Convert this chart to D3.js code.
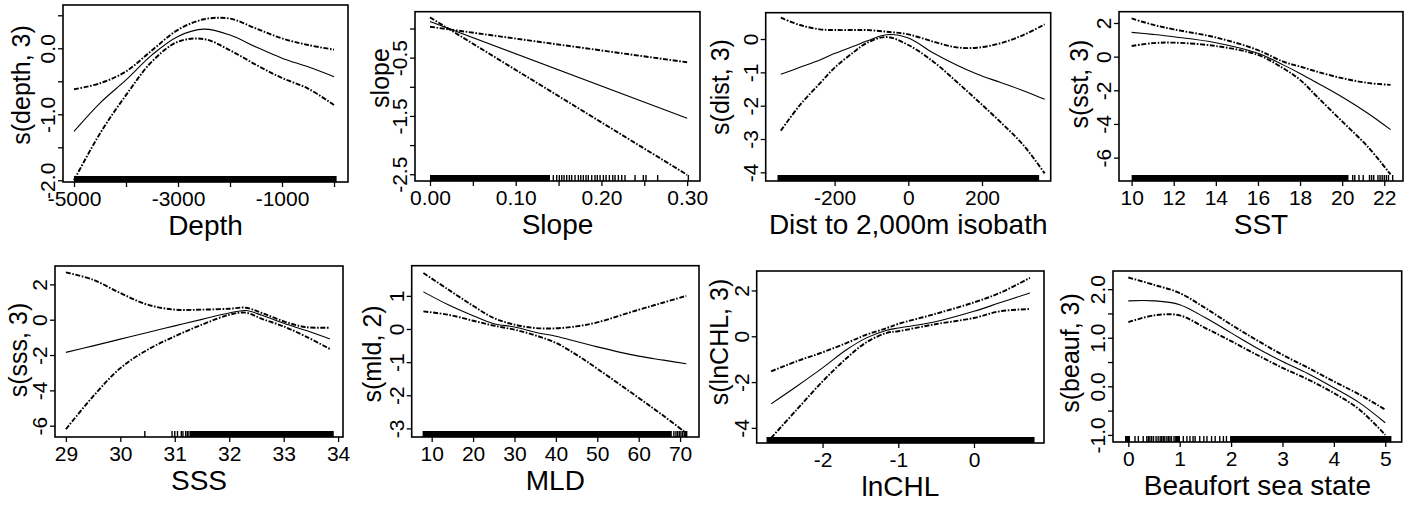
<!DOCTYPE html>
<html><head><meta charset="utf-8">
<script src="https://cdn.jsdelivr.net/npm/d3@7"></script>
<style>
body{margin:0;background:#fff}
svg text{font-family:"Liberation Sans",Arial,Helvetica,sans-serif;fill:#000}
</style>
</head><body>
<svg id="chart" width="1411" height="506"></svg>
<script>
// ---------------- DATA ----------------
// Panel 1: Depth
const depthX      = [-5000,-4500,-4000,-3500,-3000,-2500,-2000,-1500,-1000,-500,0];
const depthFit    = [-1.26,-0.83,-0.48,-0.10,0.18,0.29,0.20,0.02,-0.15,-0.28,-0.43];
const depthUpper  = [-0.62,-0.53,-0.35,-0.03,0.28,0.44,0.45,0.30,0.15,0.05,-0.02];
const depthLower  = [-2.00,-1.29,-0.71,-0.20,0.10,0.14,-0.03,-0.25,-0.45,-0.61,-0.86];
const depthXTicks = [-5000,-4000,-3000,-2000,-1000,0];
const depthXLabels= ["-5000","","-3000","","-1000",""];
const depthYTicks = [-2,-1.5,-1,-0.5,0,0.5];
const depthYLabels= ["-2.0","","-1.0","","0.0",""];
const depthRugDense = [[-5000,50]];
const depthRugSparse = [];

// Panel 2: Slope
const slopeX      = [0,0.30];
const slopeFit    = [0.12,-1.54];
const slopeUpper  = [0.03,-0.58];
const slopeLower  = [0.19,-2.51];
const slopeXTicks = [0,0.05,0.10,0.15,0.20,0.25,0.30];
const slopeXLabels= ["0.00","","0.10","","0.20","","0.30"];
const slopeYTicks = [-2.5,-2,-1.5,-1,-0.5,0];
const slopeYLabels= ["-2.5","","-1.5","","-0.5",""];
const slopeRugDense = [[0,0.14]];
const slopeRugSparse = [0.1439,0.1478,0.1509,0.1537,0.1564,0.1595,0.1626,0.1653,0.1692,0.1731,0.1759,0.1789,0.1820,0.1847,0.1887,0.1925,0.1952,0.1984,0.2023,0.2054,0.2093,0.2132,0.2159,0.2198,0.2237,0.2275,0.2392,0.2489,0.2520,0.2656,0.3014];

// Panel 3: Dist to 2,000m isobath
const distX      = [-346,-294,-240,-199,-149,-113,-59,0,68,131,186,249,312,370];
const distFit    = [-1.06,-0.85,-0.63,-0.43,-0.22,-0.06,0.13,0.03,-0.42,-0.78,-1.05,-1.30,-1.55,-1.81];
const distUpper  = [0.64,0.42,0.29,0.27,0.27,0.27,0.22,0.14,-0.08,-0.25,-0.26,-0.13,0.12,0.44];
const distLower  = [-2.75,-1.98,-1.33,-0.85,-0.40,-0.12,0.06,-0.18,-0.68,-1.28,-1.83,-2.48,-3.18,-4.03];
const distXTicks = [-200,0,200];
const distXLabels= ["-200","0","200"];
const distYTicks = [-4,-3,-2,-1,0];
const distYLabels= ["-4","-3","-2","-1","0"];
const distRugDense = [[-355,355]];
const distRugSparse = [];

// Panel 4: SST
const sstX      = [10,11,12,14,16,17.2,18,18.8,20,21.2,22.3];
const sstFit    = [1.44,1.32,1.18,0.83,0.20,-0.49,-1.00,-1.55,-2.40,-3.35,-4.34];
const sstUpper  = [2.27,1.90,1.62,1.14,0.39,-0.30,-0.59,-0.89,-1.28,-1.56,-1.68];
const sstLower  = [0.63,0.80,0.83,0.63,0.10,-0.69,-1.38,-2.37,-3.85,-5.33,-7.00];
const sstXTicks = [10,12,14,16,18,20,22];
const sstXLabels= ["10","12","14","16","18","20","22"];
const sstYTicks = [-6,-4,-2,0,2];
const sstYLabels= ["-6","-4","-2","0","2"];
const sstRugDense = [[10.0,20.3]];
const sstRugSparse = [20.5,20.6,20.8,21.0,21.3,21.4,21.5,21.7,21.8,21.9,22.0,22.1,22.2,22.4];

// Panel 5: SSS
const sssX      = [29,29.5,30,30.5,31,31.5,32,32.3,32.6,33,33.4,33.85];
const sssFit    = [-1.85,-1.48,-1.10,-0.72,-0.35,0.02,0.38,0.52,0.25,-0.20,-0.60,-1.09];
const sssUpper  = [2.68,2.26,1.51,0.85,0.57,0.57,0.62,0.68,0.38,-0.09,-0.42,-0.45];
const sssLower  = [-6.20,-4.34,-2.74,-1.70,-0.94,-0.28,0.28,0.40,0.05,-0.38,-0.94,-1.66];
const sssXTicks = [29,30,31,32,33,34];
const sssXLabels= ["29","30","31","32","33","34"];
const sssYTicks = [-6,-4,-2,0,2];
const sssYLabels= ["-6","-4","-2","0","2"];
const sssRugDense = [[31.28,33.92]];
const sssRugSparse = [30.45,30.95,31.0,31.05,31.12,31.15,31.2,31.23,31.26];

// Panel 6: MLD
const mldX      = [8,14,20,25,30,35,40,45,50,60,66,71.5];
const mldFit    = [1.12,0.73,0.40,0.16,0.06,-0.10,-0.22,-0.38,-0.54,-0.82,-0.94,-1.05];
const mldUpper  = [1.69,1.19,0.70,0.33,0.13,0.03,0.02,0.08,0.20,0.58,0.80,1.00];
const mldLower  = [0.53,0.43,0.25,0.10,-0.02,-0.19,-0.42,-0.78,-1.20,-2.08,-2.62,-3.14];
const mldXTicks = [10,20,30,40,50,60,70];
const mldXLabels= ["10","20","30","40","50","60","70"];
const mldYTicks = [-3,-2,-1,0,1];
const mldYLabels= ["-3","-2","-1","0","1"];
const mldRugDense = [[7.8,68]];
const mldRugSparse = [68.5,69,69.4,69.8,70.2,70.6,71,71.3,71.6];

// Panel 7: lnCHL
const chlX      = [-2.68,-2.34,-2,-1.68,-1.42,-1.15,-1,-0.54,0,0.34,0.74];
const chlFit    = [-2.95,-2.18,-1.38,-0.58,-0.07,0.26,0.36,0.61,1.09,1.46,1.89];
const chlUpper  = [-1.53,-1.09,-0.70,-0.29,0.07,0.36,0.54,0.95,1.48,1.89,2.55];
const chlLower  = [-4.44,-3.20,-1.97,-0.95,-0.26,0.15,0.22,0.51,0.80,1.09,1.19];
const chlXTicks = [-2,-1,0];
const chlXLabels= ["-2","-1","0"];
const chlYTicks = [-4,-2,0,2];
const chlYLabels= ["-4","-2","0","2"];
const chlRugDense = [[-2.74,0.80]];
const chlRugSparse = [];

// Panel 8: Beaufort sea state
const beaufX      = [0,0.5,1,1.5,2,2.5,3,3.5,4,4.5,5];
const beaufFit    = [1.76,1.76,1.68,1.41,1.10,0.79,0.51,0.26,-0.03,-0.34,-0.75];
const beaufUpper  = [2.24,2.09,1.92,1.61,1.27,0.95,0.65,0.38,0.10,-0.17,-0.48];
const beaufLower  = [1.32,1.46,1.46,1.20,0.93,0.65,0.38,0.14,-0.14,-0.48,-1.00];
const beaufXTicks = [0,1,2,3,4,5];
const beaufXLabels= ["0","1","2","3","4","5"];
const beaufYTicks = [-1,-0.5,0,0.5,1,1.5,2];
const beaufYLabels= ["-1.0","","0.0","","1.0","","2.0"];
const beaufRugDense = [[-0.064,0.033],[0.91,1.006],[1.98,5.12]];
const beaufRugSparse = [0.13,0.195,0.29,0.36,0.39,0.42,0.455,0.49,0.54,0.58,0.62,0.65,0.68,0.71,0.75,0.78,0.81,0.84,0.89,1.07,1.14,1.20,1.26,1.30,1.39,1.47,1.53,1.62,1.69,1.78,1.85,1.91];

const xTitles = ["Depth","Slope","Dist to 2,000m isobath","SST","SSS","MLD","lnCHL","Beaufort sea state"];
const yTitles = ["s(depth, 3)","slope","s(dist, 3)","s(sst, 3)","s(sss, 3)","s(mld, 2)","s(lnCHL, 3)","s(beauf, 3)"];

// ---------------- LAYOUT (positions only) ----------------
const layout = [
  {l:63,   r:348,    t:5,     b:182,  xd:[-5211.5,269],  yd:[-2.026,0.656], ytx:30,   yty:85},
  {l:415,  r:700,    t:11.7,  b:181,  xd:[-0.0175,0.315],yd:[-2.616,0.288], ytx:389,  yty:78},
  {l:765.7,r:1050.7, t:12.7,  b:181,  xd:[-387,386.4],   yd:[-4.26,0.79],   ytx:729,  yty:87},
  {l:1119, r:1403,   t:11.7,  b:181,  xd:[9.40,22.89],   yd:[-7.39,2.67],   ytx:1088, yty:84},
  {l:55,   r:343,    t:266,   b:437,  xd:[28.80,34.09],  yd:[-6.64,3.04],   ytx:27,   yty:350},
  {l:411.7,r:699,    t:265.7, b:437,  xd:[5.17,74.57],   yd:[-3.26,1.91],   ytx:381,  yty:354},
  {l:756.7,r:1044,   t:271,   b:443,  xd:[-2.87,0.925],  yd:[-4.66,2.85],   ytx:728,  yty:342},
  {l:1113, r:1401.7, t:271,   b:442,  xd:[-0.298,5.32],  yd:[-1.146,2.374], ytx:1079, yty:353}
];

const panelData = [
  {x:depthX,fit:depthFit,up:depthUpper,lo:depthLower,xt:depthXTicks,xl:depthXLabels,yt:depthYTicks,yl:depthYLabels,rd:depthRugDense,rs:depthRugSparse},
  {x:slopeX,fit:slopeFit,up:slopeUpper,lo:slopeLower,xt:slopeXTicks,xl:slopeXLabels,yt:slopeYTicks,yl:slopeYLabels,rd:slopeRugDense,rs:slopeRugSparse},
  {x:distX,fit:distFit,up:distUpper,lo:distLower,xt:distXTicks,xl:distXLabels,yt:distYTicks,yl:distYLabels,rd:distRugDense,rs:distRugSparse},
  {x:sstX,fit:sstFit,up:sstUpper,lo:sstLower,xt:sstXTicks,xl:sstXLabels,yt:sstYTicks,yl:sstYLabels,rd:sstRugDense,rs:sstRugSparse},
  {x:sssX,fit:sssFit,up:sssUpper,lo:sssLower,xt:sssXTicks,xl:sssXLabels,yt:sssYTicks,yl:sssYLabels,rd:sssRugDense,rs:sssRugSparse},
  {x:mldX,fit:mldFit,up:mldUpper,lo:mldLower,xt:mldXTicks,xl:mldXLabels,yt:mldYTicks,yl:mldYLabels,rd:mldRugDense,rs:mldRugSparse},
  {x:chlX,fit:chlFit,up:chlUpper,lo:chlLower,xt:chlXTicks,xl:chlXLabels,yt:chlYTicks,yl:chlYLabels,rd:chlRugDense,rs:chlRugSparse},
  {x:beaufX,fit:beaufFit,up:beaufUpper,lo:beaufLower,xt:beaufXTicks,xl:beaufXLabels,yt:beaufYTicks,yl:beaufYLabels,rd:beaufRugDense,rs:beaufRugSparse}
];

// ---------------- DRAW ----------------
const svg = d3.select("#chart");
svg.append("rect").attr("width",1411).attr("height",506).attr("fill","#fff");

const TICK_FS = 21, XTITLE_FS = 28, YTITLE_FS = 25, RUG_H = 6, TICK_LEN = 5;

panelData.forEach((d,i)=>{
  const L = layout[i];
  const xs = d3.scaleLinear().domain(L.xd).range([L.l,L.r]);
  const ys = d3.scaleLinear().domain(L.yd).range([L.b,L.t]);
  const g = svg.append("g");

  const clipId = "clip"+i;
  svg.append("clipPath").attr("id",clipId).append("rect")
     .attr("x",L.l).attr("y",L.t).attr("width",L.r-L.l).attr("height",L.b-L.t);

  const pg = g.append("g").attr("clip-path",`url(#${clipId})`);

  // rug
  pg.selectAll("rect.rug").data(d.rd).join("rect").attr("class","rug")
    .attr("x",r=>xs(r[0])).attr("width",r=>Math.max(1,xs(r[1])-xs(r[0])))
    .attr("y",L.b-RUG_H).attr("height",RUG_H).attr("fill","#000");
  pg.selectAll("line.rug").data(d.rs).join("line").attr("class","rug")
    .attr("x1",v=>xs(v)).attr("x2",v=>xs(v))
    .attr("y1",L.b-RUG_H).attr("y2",L.b).attr("stroke","#000").attr("stroke-width",1.4);

  const line = d3.line().x((v,j)=>xs(d.x[j])).y(v=>ys(v)).curve(d3.curveCatmullRom.alpha(0.5));
  [d.up,d.lo].forEach(s=>{
    pg.append("path").attr("d",line(s)).attr("fill","none")
      .attr("stroke","#000").attr("stroke-width",1.9)
      .attr("stroke-dasharray","5,1.6,1.6,1.6");
  });
  pg.append("path").attr("d",line(d.fit)).attr("fill","none")
    .attr("stroke","#000").attr("stroke-width",1.1);

  // box
  g.append("rect").attr("x",L.l).attr("y",L.t).attr("width",L.r-L.l).attr("height",L.b-L.t)
   .attr("fill","none").attr("stroke","#000").attr("stroke-width",1.6);

  // x axis
  const xAxis = d3.axisBottom(xs).tickValues(d.xt)
    .tickFormat((v,j)=>d.xl[j]).tickSize(TICK_LEN).tickSizeOuter(0).tickPadding(3);
  const xg = g.append("g").attr("transform",`translate(0,${L.b})`).call(xAxis);
  xg.select(".domain").remove();
  xg.selectAll(".tick line").attr("stroke","#000").attr("stroke-width",1.3);
  xg.selectAll(".tick text").attr("font-size",TICK_FS).attr("dy",null).attr("y",24)
    .attr("font-family","'Liberation Sans',Arial,sans-serif").attr("fill","#000");

  // y axis
  const yAxis = d3.axisLeft(ys).tickValues(d.yt)
    .tickFormat((v,j)=>d.yl[j]).tickSize(TICK_LEN).tickSizeOuter(0);
  const yg = g.append("g").attr("transform",`translate(${L.l},0)`).call(yAxis);
  yg.select(".domain").remove();
  yg.selectAll(".tick line").attr("stroke","#000").attr("stroke-width",1.3);
  yg.selectAll(".tick text").attr("font-size",TICK_FS)
    .attr("font-family","'Liberation Sans',Arial,sans-serif").attr("fill","#000")
    .attr("transform","rotate(-90)").attr("text-anchor","middle")
    .attr("x",0).attr("y",-8).attr("dy",null);

  // titles
  g.append("text").attr("x",(L.l+L.r)/2).attr("y",L.b+53)
    .attr("text-anchor","middle").attr("font-size",XTITLE_FS).text(xTitles[i]);
  g.append("text").attr("transform",`translate(${L.ytx},${L.yty}) rotate(-90)`)
    .attr("text-anchor","middle").attr("font-size",YTITLE_FS).text(yTitles[i]);
});
</script>
</body></html>
